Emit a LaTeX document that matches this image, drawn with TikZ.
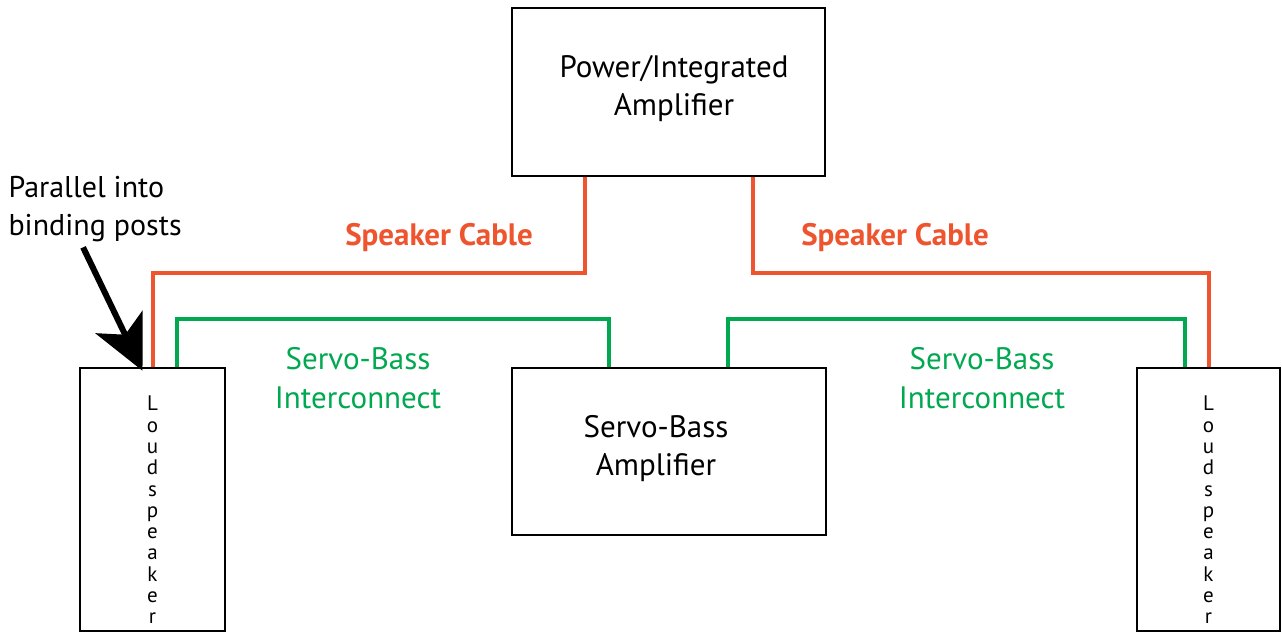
\documentclass[tikz,border=0pt]{standalone}
\usepackage{fontspec}
\setmainfont{PT Sans}
\usetikzlibrary{arrows.meta}
\definecolor{cablered}{RGB}{238,84,46}
\definecolor{servogreen}{RGB}{0,168,80}
\tikzset{
	box/.style={draw, line width=2.5pt, inner sep=0pt},
	speaker/.style={draw=cablered, line width=4pt},
	interconnect/.style={draw=servogreen, line width=4pt},
	cablelabel/.style={text=cablered, font=\fontsize{31}{34}\selectfont\bfseries},
	servolabel/.style={text=servogreen, align=center, font=\fontsize{31}{39}\selectfont},
	boxtext/.style={align=center, font=\fontsize{31}{38}\selectfont},
	stacked/.style={align=center, font=\fontsize{21}{21.3}\selectfont},
}

\begin{document}
\begin{tikzpicture}[x=1pt, y=-1pt]
	\useasboundingbox (0,0) rectangle (1282,633);

	\draw (668.5, 92) 	node[box, minimum width=313pt, minimum height=168pt] 	(power) 	{};
	\draw (669, 451.5) 	node[box, minimum width=314pt, minimum height=167pt] 	(servo) 	{};
	\draw (152.5, 499.5) 	node[box, minimum width=145pt, minimum height=263pt] 	(spkL) 		{};
	\draw (1208.5, 499.5) 	node[box, minimum width=143pt, minimum height=263pt] 	(spkR) 		{};

	\draw (674, 89) 	node[boxtext] 	(powerText) 	{Power/Integrated\\Amplifier};
	\draw (656, 449) 	node[boxtext] 	(servoText) 	{Servo-Bass\\Amplifier};
	\draw (152.5, 510) 	node[stacked] 	(spkLText) 	{L\\o\\u\\d\\s\\p\\e\\a\\k\\e\\r};
	\draw (1208.5, 510) 	node[stacked] 	(spkRText) 	{L\\o\\u\\d\\s\\p\\e\\a\\k\\e\\r};

	\draw (439, 238) 	node[cablelabel] 	(cableL) 	{Speaker Cable};
	\draw (895, 238) 	node[cablelabel] 	(cableR) 	{Speaker Cable};
	\draw (358, 378) 	node[servolabel] 	(linkL) 	{Servo-Bass\\Interconnect};
	\draw (982, 378) 	node[servolabel] 	(linkR) 	{Servo-Bass\\Interconnect};
	\draw (5, 209) 	node[anchor=west, align=left, font=\fontsize{30}{38}\selectfont] 	(note) 	{Parallel into\\binding posts};

	\draw[speaker] ([xshift=-84pt]power.south) -- ++(0,96) -| (spkL.north);
	\draw[speaker] ([xshift=84pt]power.south) -- ++(0,96) -| (spkR.north);
	\draw[interconnect] ([xshift=24.5pt]spkL.north) -- ++(0,-48) -| ([xshift=-60pt]servo.north);
	\draw[interconnect] ([xshift=59pt]servo.north) -- ++(0,-48) -| ([xshift=-23.5pt]spkR.north);

	\draw[line width=6pt, -{Stealth[length=54pt, width=52pt, inset=14pt]}] ([xshift=-12pt, yshift=-2pt]note.south) -- ([xshift=-10pt, yshift=-4pt]spkL.north);
\end{tikzpicture}
\end{document}
